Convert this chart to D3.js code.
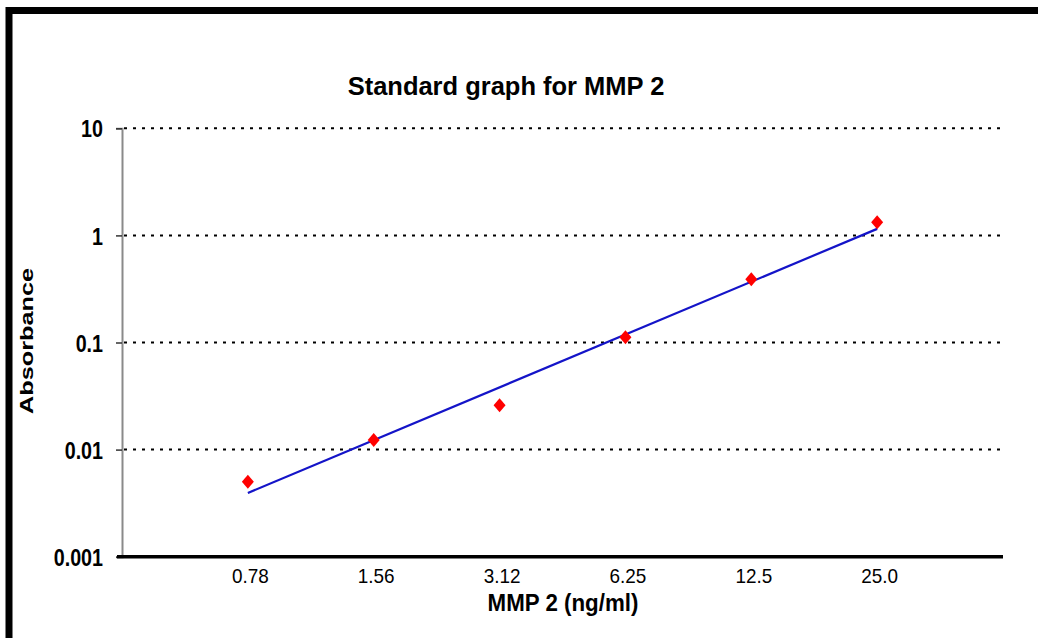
<!DOCTYPE html>
<html lang="en">
<head>
    <meta charset="UTF-8">
    <title>Standard graph for MMP 2</title>
    <script src="https://cdn.jsdelivr.net/npm/d3@7"></script>
    <style>
        body { margin: 0; background: #fff; }
        text { font-family: "Liberation Sans", Arial, sans-serif; }
    </style>
</head>
<body>
<div id="chart"></div>
<script>
// concentrations on the x axis (ng/ml) and measured absorbance
const concLabels = ["0.78", "1.56", "3.12", "6.25", "12.5", "25.0"];
const absorbance = [0.0050, 0.0123, 0.026, 0.112, 0.39, 1.33];
const yTicks = [0.001, 0.01, 0.1, 1, 10];
const yTickLabels = ["0.001", "0.01", "0.1", "1", "10"];

const width = 1038;
const height = 638;

const svg = d3.select("#chart").append("svg")
    .attr("width", width)
    .attr("height", height);

svg.append("rect")
    .attr("width", width)
    .attr("height", height)
    .attr("fill", "#fff");

// frame, only top and left edges show
svg.append("path")
    .attr("d", `M9,${height} V10.5 H${width}`)
    .attr("fill", "none")
    .attr("stroke", "#000")
    .attr("stroke-width", 7);

const x = d3.scaleLinear().domain([0, concLabels.length + 1]).range([122, 1003]);
const y = d3.scaleLog().domain([0.001, 10]).range([556.7, 128.3]);

// squeeze text a bit, the source picture is stretched
function squeeze(sel, k) {
    sel.each(function () {
        const w = this.getComputedTextLength();
        d3.select(this).attr("textLength", w * k).attr("lengthAdjust", "spacingAndGlyphs");
    });
}

// dotted gridlines
svg.append("g")
    .selectAll("line")
    .data(yTicks.slice(1))
    .join("line")
    .attr("x1", x(0) + 2)
    .attr("x2", x(concLabels.length + 1))
    .attr("y1", d => y(d))
    .attr("y2", d => y(d))
    .attr("stroke", "#000")
    .attr("stroke-width", 2)
    .attr("stroke-dasharray", "3,6");

// y axis
const yAxis = svg.append("g")
    .attr("transform", `translate(${x(0)},0)`)
    .call(d3.axisLeft(y).tickValues(yTicks).tickFormat((d, i) => yTickLabels[i]).tickSize(6).tickPadding(13));
yAxis.select(".domain").attr("stroke", "#8a8a8a").attr("stroke-width", 2);
yAxis.selectAll(".tick line").attr("stroke", "#333").attr("stroke-width", 1.5);
yAxis.selectAll(".tick text")
    .attr("font-size", 24)
    .attr("font-weight", "bold")
    .attr("fill", "#000")
    .attr("dy", "0.36em")
    .call(squeeze, 0.82);

// x axis
const xAxis = svg.append("g")
    .attr("transform", `translate(0,${y(0.001)})`)
    .call(d3.axisBottom(x).tickValues(concLabels.map((d, i) => i + 1)).tickFormat((d, i) => concLabels[i]).tickSize(0).tickPadding(11));
xAxis.select(".domain").attr("stroke", "#000").attr("stroke-width", 3.5)
    .attr("d", `M${x(0) - 5},0H${x(concLabels.length + 1)}`);
xAxis.selectAll(".tick text")
    .attr("font-size", 21)
    .attr("fill", "#000")
    .attr("dx", 2)
    .call(squeeze, 0.9);

// exponential trendline: least squares of log10(absorbance) on position
const xs = absorbance.map((d, i) => i + 1);
const ls = absorbance.map(d => Math.log10(d));
const mx = d3.mean(xs);
const my = d3.mean(ls);
const slope = d3.sum(xs, (v, i) => (v - mx) * (ls[i] - my)) / d3.sum(xs, v => (v - mx) ** 2);
const fit = v => Math.pow(10, my + slope * (v - mx));
const ends = [xs[0], xs[xs.length - 1]];

svg.append("path")
    .datum(ends)
    .attr("fill", "none")
    .attr("stroke", "#1414c8")
    .attr("stroke-width", 2.2)
    .attr("d", d3.line().x(d => x(d)).y(d => y(fit(d))));

// red diamond markers
svg.append("g")
    .selectAll("path")
    .data(absorbance)
    .join("path")
    .attr("transform", (d, i) => `translate(${x(i + 1)},${y(d)})`)
    .attr("d", "M0,-7L6,0L0,7L-6,0Z")
    .attr("fill", "#f00");

// titles
svg.append("text")
    .attr("x", 506)
    .attr("y", 95)
    .attr("text-anchor", "middle")
    .attr("font-size", 26)
    .attr("font-weight", "bold")
    .text("Standard graph for MMP 2")
    .call(squeeze, 0.98);

svg.append("text")
    .attr("x", 563)
    .attr("y", 611)
    .attr("text-anchor", "middle")
    .attr("font-size", 23)
    .attr("font-weight", "bold")
    .text("MMP 2 (ng/ml)")
    .call(squeeze, 0.97);

svg.append("text")
    .attr("transform", "translate(33,341) rotate(-90)")
    .attr("text-anchor", "middle")
    .attr("font-size", 19)
    .attr("font-weight", "bold")
    .attr("textLength", 146)
    .attr("lengthAdjust", "spacingAndGlyphs")
    .text("Absorbance");
</script>
</body>
</html>
